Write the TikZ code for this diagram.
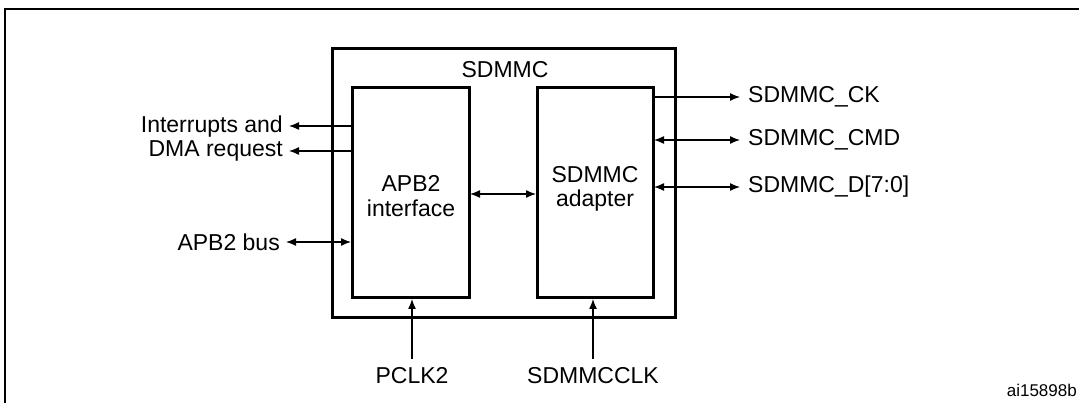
\documentclass[tikz,border=0pt]{standalone}
\usepackage{fontspec}
\setmainfont{Liberation Sans}
\usetikzlibrary{arrows.meta}
\begin{document}
\begin{tikzpicture}[x=1pt,y=-1pt,
  box/.style={draw,line width=3pt},
  sig/.style={line width=1.3pt,-{Latex[length=10pt,width=8pt]}},
  bsig/.style={line width=1.3pt,{Latex[length=10pt,width=8pt]}-{Latex[length=10pt,width=8pt]}},
  lbl/.style={font=\fontsize{23}{24.5}\selectfont,inner sep=0pt}]
\useasboundingbox (0,0) rectangle (1079,403);
\draw[line width=2pt] (5,403) -- (5,9) -- (1079,9);
\draw[box] (332,49) rectangle (675,318);
\node[lbl] (sd) at (505,70) {SDMMC};
\draw[box] (352,88) rectangle (469,298);
\draw[box] (537,88) rectangle (653,298);
\node[lbl,align=center] (apb) at (411,196) {APB2\\interface};
\node[lbl,align=center] (ad) at (595,189) {SDMMC\\adapter};
% left
\coordinate (i1) at (352,126); \coordinate (i2) at (352,151);
\coordinate (i1e) at (289,126); \coordinate (i2e) at (289,151);
\draw[sig] (i1) -- (i1e); \draw[sig] (i2) -- (i2e);
\node[lbl,align=right,anchor=east] (int) at (283,138.5) {Interrupts and\\DMA request};
\coordinate (b1) at (351,242); \coordinate (b2) at (286,242);
\draw[bsig] (b2) -- (b1);
\node[lbl,anchor=east] (bus) at (280,242) {APB2 bus};
% middle
\coordinate (m1) at (470,194); \coordinate (m2) at (536,194);
\draw[bsig] (m1) -- (m2);
% right
\coordinate (c1) at (654,97); \coordinate (c2) at (740,97);
\draw[sig] (c1) -- (c2);
\node[lbl,anchor=west] (ck) at (748,97) {SDMMC\_CK};
\coordinate (d1) at (654,140); \coordinate (d2) at (740,140);
\draw[bsig] (d1) -- (d2);
\node[lbl,anchor=west] (cmd) at (748,140) {SDMMC\_CMD};
\coordinate (e1) at (654,187); \coordinate (e2) at (740,187);
\draw[bsig] (e1) -- (e2);
\node[lbl,anchor=west] (dd) at (748,187) {SDMMC\_D[7:0]};
% bottom
\node[lbl] (pclk) at (412,376) {PCLK2};
\node[lbl] (sclk) at (593,376) {SDMMCCLK};
\coordinate (p1) at (412,359); \coordinate (p2) at (412,299);
\draw[sig] (p1) -- (p2);
\coordinate (s1) at (593,359); \coordinate (s2) at (593,299);
\draw[sig] (s1) -- (s2);
\node[lbl,font=\fontsize{17}{19}\selectfont,anchor=east] (id) at (1077,390) {ai15898b};
\end{tikzpicture}
\end{document}
